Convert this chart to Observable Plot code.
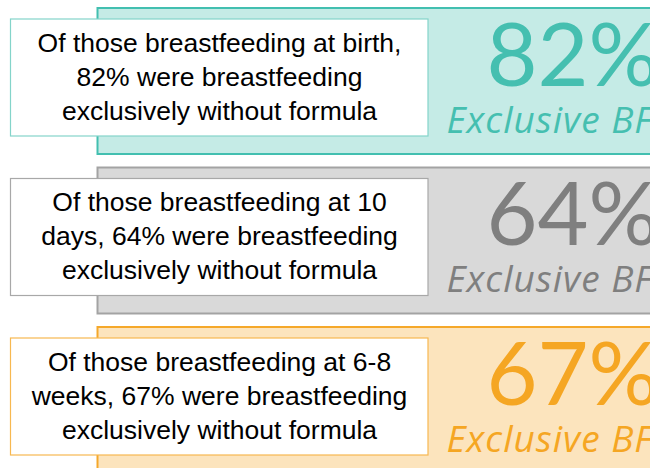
<!DOCTYPE html>
<html>
<head>
<meta charset="utf-8">
<script src="https://cdn.jsdelivr.net/npm/d3@7"></script>
<script src="https://cdn.jsdelivr.net/npm/@observablehq/plot@0.6"></script>
<style>
  html, body { margin: 0; padding: 0; background: #ffffff; overflow: hidden; }
  #chart svg { display: block; }
  #chart svg g[font-style="italic"] text { letter-spacing: 1px; }
</style>
</head>
<body>
<div id="chart"></div>
<script>
// ---- data ----
const stages = ["birth", "10 days", "6-8 weeks"];
const exclusivePct = [82, 64, 67];
const descriptionLines = [
  ["Of those breastfeeding at birth,", "82% were breastfeeding", "exclusively without formula"],
  ["Of those breastfeeding at 10", "days, 64% were breastfeeding", "exclusively without formula"],
  ["Of those breastfeeding at 6-8", "weeks, 67% were breastfeeding", "exclusively without formula"]
];
const badgeLabel = "Exclusive BF";

// ---- styles ----
const panelFill   = ["#c5ebe6", "#d9d9d9", "#fce4bd"];
const panelStroke = ["#42bfb0", "#a3a3a3", "#f5a82a"];
const boxStroke   = ["#84d4ca", "#a8a8a8", "#f7b850"];
const accent      = ["#45bfb0", "#7f7f7f", "#f5a623"];

// ---- layout ----
const W = 650, H = 468;
const panelTop = i => 8 + i * 159.5;
const panelH = 146;

const rows = stages.map((stage, i) => ({
  i, stage, pct: exclusivePct[i], text: descriptionLines[i].join("\n")
}));

const chart = Plot.plot({
  width: W,
  height: H,
  margin: 0,
  style: {background: "#ffffff", overflow: "hidden"},
  x: {domain: [0, W], range: [0, W], axis: null},
  y: {domain: [0, H], range: [0, H], axis: null},
  color: {type: "identity"},
  marks: [
    // coloured panel
    Plot.rect(rows, {
      x1: () => 97.5, x2: () => W + 20,
      y1: d => panelTop(d.i), y2: d => panelTop(d.i) + panelH,
      fill: d => panelFill[d.i], stroke: d => panelStroke[d.i], strokeWidth: 2,
      clip: true
    }),
    // white description box
    Plot.rect(rows, {
      x1: () => 10.5, x2: () => 428,
      y1: d => panelTop(d.i) + 11, y2: d => panelTop(d.i) + 128,
      fill: "#ffffff", stroke: d => boxStroke[d.i], strokeWidth: 1.2
    }),
    // description text
    Plot.text(rows, {
      x: () => 219, y: d => panelTop(d.i) + 111,
      text: "text", textAnchor: "middle", lineAnchor: "bottom",
      lineHeight: 34 / 26.5, fontSize: 26.5,
      fontFamily: "'Liberation Sans', Arial, sans-serif", fill: "#000000"
    }),
    // big percentage
    Plot.text(rows, {
      x: () => 486, y: d => panelTop(d.i) + 77,
      text: d => `${d.pct}%`, textAnchor: "start", lineAnchor: "bottom",
      fontSize: 88, fontFamily: "Lato, 'Open Sans', sans-serif",
      fill: d => accent[d.i], clip: true
    }),
    // Exclusive BF label
    Plot.text(rows, {
      x: () => 446, y: d => panelTop(d.i) + 124,
      text: () => badgeLabel, textAnchor: "start", lineAnchor: "bottom",
      fontSize: 37, fontStyle: "italic", fontFamily: "'Open Sans', Lato, sans-serif",
      fill: d => accent[d.i], clip: true
    })
  ]
});

document.getElementById("chart").appendChild(chart);
</script>
</body>
</html>
